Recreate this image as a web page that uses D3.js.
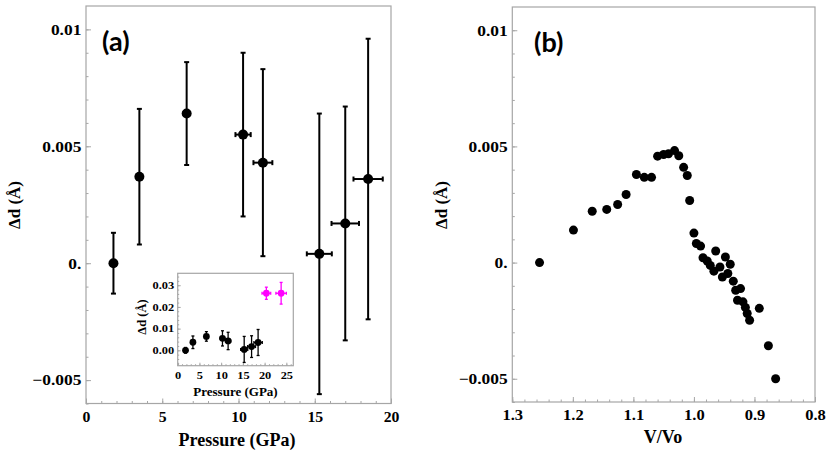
<!DOCTYPE html>
<html>
<head>
<meta charset="utf-8">
<script src="https://cdn.jsdelivr.net/npm/d3@7"></script>
<style>
    body { margin: 0; background: #ffffff; }
    svg text { font-family: 'Liberation Serif', 'Times New Roman', serif; font-weight: bold; fill: #000; }
</style>
</head>
<body>
<div id="container"></div>
<script>
// ---- panel (a): Δd vs pressure, with error bars ----
const pressure = [1.8, 3.5, 6.6, 10.3, 11.6, 15.3, 17.0, 18.5];
const pressureErr = [0, 0, 0.15, 0.5, 0.62, 0.82, 0.9, 0.96];
const deltaD = [0, 0.0037, 0.0064, 0.0055, 0.0043, 0.0004, 0.0017, 0.0036];
const deltaDErr = [0.0013, 0.0029, 0.0022, 0.0035, 0.004, 0.006, 0.005, 0.006];

// inset extra points (magenta)
const pressureHigh = [20.4, 23.8];
const pressureHighErr = [1.0, 1.2];
const deltaDHigh = [0.0263, 0.0263];
const deltaDHighErr = [0.0028, 0.005];

// ---- panel (b): Δd vs V/Vo ----
const volRatio = [1.255, 1.199, 1.168, 1.144, 1.126, 1.112, 1.095, 1.082, 1.070, 1.060,
    1.050, 1.042, 1.032, 1.025, 1.017, 1.011, 1.007, 1.000, 0.996, 0.989,
    0.964, 0.985, 0.978, 0.973, 0.967, 0.957, 0.948, 0.940, 0.953, 0.944,
    0.935, 0.931, 0.923, 0.928, 0.919, 0.915, 0.912, 0.908, 0.892, 0.877, 0.865];
const deltaDVol = [0, 0.0014, 0.00221, 0.00229, 0.0025, 0.00293, 0.00379, 0.00367, 0.00367, 0.00458,
    0.00465, 0.00468, 0.00482, 0.0046, 0.0041, 0.00375, 0.00267, 0.00127, 0.00082, 0.00071,
    0.0005, 0.00021, 0.00007, -0.00012, -0.00037, -0.00019, 0.00024, -0.00007, -0.00062, -0.00047,
    -0.0008, -0.00119, -0.00112, -0.00162, -0.00169, -0.00193, -0.00219, -0.00248, -0.00197, -0.00358, -0.005];

// ticks
const dTicks = [-0.005, 0, 0.005, 0.01];
const dTickLabels = ['\u22120.005', '0.', '0.005', '0.01'];
const pTicks = [0, 5, 10, 15, 20];
const pTickLabels = ['0', '5', '10', '15', '20'];
const vTicks = [1.3, 1.2, 1.1, 1.0, 0.9, 0.8];
const vTickLabels = ['1.3', '1.2', '1.1', '1.0', '0.9', '0.8'];
const insetPTicks = [0, 5, 10, 15, 20, 25];
const insetPTickLabels = ['0', '5', '10', '15', '20', '25'];
const insetDTicks = [0, 0.01, 0.02, 0.03];
const insetDTickLabels = ['0.00', '0.01', '0.02', '0.03'];

const frameColor = '#a6a6a6';

const svg = d3.select('#container')
    .append('svg')
    .attr('width', 830)
    .attr('height', 456);

// frame + ticks in Mathematica style (ticks pointing inside)
function drawFrame(g, x, y, opt) {
    const [x0, x1] = x.range();
    const [y0, y1] = y.range();
    g.append('rect')
        .attr('x', Math.min(x0, x1)).attr('y', Math.min(y0, y1))
        .attr('width', Math.abs(x1 - x0)).attr('height', Math.abs(y1 - y0))
        .attr('fill', opt.fill || 'none')
        .attr('stroke', frameColor)
        .attr('stroke-width', 1.2);

    const bottom = Math.max(y0, y1), left = Math.min(x0, x1);
    // minor
    g.append('g').attr('transform', `translate(0,${bottom})`)
        .call(d3.axisBottom(x).tickValues(opt.xMinor).tickSize(-opt.minor).tickFormat(''));
    g.append('g').attr('transform', `translate(${left},0)`)
        .call(d3.axisLeft(y).tickValues(opt.yMinor).tickSize(-opt.minor).tickFormat(''));
    // major
    const xa = g.append('g').attr('transform', `translate(0,${bottom})`)
        .call(d3.axisBottom(x).tickValues(opt.xTicks).tickSize(-opt.major).tickPadding(opt.xPad)
            .tickFormat((d, i) => opt.xLabels[i]));
    const ya = g.append('g').attr('transform', `translate(${left},0)`)
        .call(d3.axisLeft(y).tickValues(opt.yTicks).tickSize(-opt.major).tickPadding(opt.yPad)
            .tickFormat((d, i) => opt.yLabels[i]));

    g.selectAll('.domain').remove();
    g.selectAll('.tick line').attr('stroke', frameColor).attr('stroke-width', 1);
    g.selectAll('.tick text')
        .attr('font-family', null)
        .style('font-size', opt.fontSize + 'px')
        .attr('fill', '#000');
    // the original labels are rendered a bit wide
    xa.selectAll('.tick text').attr('transform', `scale(${opt.xStretch},1)`);
    ya.selectAll('.tick text').attr('transform', `scale(${opt.yStretch},1)`);
}

// error bars + markers
function drawErrorPoints(g, x, y, xs, ys, xe, ye, opt) {
    xs.forEach((px, i) => {
        const cx = x(px), cy = y(ys[i]);
        const yt = y(ys[i] + ye[i]), yb = y(ys[i] - ye[i]);
        g.append('line').attr('x1', cx).attr('x2', cx).attr('y1', yt).attr('y2', yb)
            .attr('stroke', opt.color).attr('stroke-width', opt.sw);
        [yt, yb].forEach(yy => g.append('line')
            .attr('x1', cx - opt.cap).attr('x2', cx + opt.cap).attr('y1', yy).attr('y2', yy)
            .attr('stroke', opt.color).attr('stroke-width', opt.sw));
        if (xe[i] > 0) {
            const xl = x(px - xe[i]), xr = x(px + xe[i]);
            g.append('line').attr('x1', xl).attr('x2', xr).attr('y1', cy).attr('y2', cy)
                .attr('stroke', opt.color).attr('stroke-width', opt.sw);
            [xl, xr].forEach(xx => g.append('line')
                .attr('x1', xx).attr('x2', xx).attr('y1', cy - opt.cap).attr('y2', cy + opt.cap)
                .attr('stroke', opt.color).attr('stroke-width', opt.sw));
        }
        g.append('circle').attr('cx', cx).attr('cy', cy).attr('r', opt.r).attr('fill', opt.color);
    });
}

// ================= panel (a) =================
const xA = d3.scaleLinear().domain([0, 20]).range([86, 391]);
const yA = d3.scaleLinear().domain([-0.006, 0.011]).range([403.5, 6]);
const gA = svg.append('g');

drawFrame(gA, xA, yA, {
    xTicks: pTicks, xLabels: pTickLabels, xMinor: d3.range(0, 21, 1),
    yTicks: dTicks, yLabels: dTickLabels, yMinor: d3.range(-6, 11).map(v => v / 1000),
    major: 5, minor: 2.5, xPad: 8, yPad: 4, fontSize: 15, xStretch: 1.05, yStretch: 1.16
});
drawErrorPoints(gA, xA, yA, pressure, deltaD, pressureErr, deltaDErr,
    { color: '#000', sw: 2, cap: 2.5, r: 5 });

gA.append('text').text('(a)')
    .attr('x', 102).attr('y', 51)
    .style('font-family', 'Lato, \'Open Sans\', sans-serif')
    .style('font-size', '27px');
gA.append('text').text('Pressure (GPa)')
    .attr('x', 237).attr('y', 446)
    .attr('text-anchor', 'middle')
    .style('font-size', '18px');
gA.append('text').text('\u0394d (\u00c5)')
    .attr('text-anchor', 'middle')
    .attr('transform', 'translate(20,205) rotate(-90)')
    .style('font-size', '17px');

// ---- inset ----
const xI = d3.scaleLinear().domain([0, 26.6]).range([177.7, 293.3]);
const yI = d3.scaleLinear().domain([-0.0071, 0.0355]).range([365.7, 273.3]);
const gI = svg.append('g');

drawFrame(gI, xI, yI, {
    fill: '#ffffff',
    xTicks: insetPTicks, xLabels: insetPTickLabels, xMinor: d3.range(0, 27, 1),
    yTicks: insetDTicks, yLabels: insetDTickLabels, yMinor: d3.range(-3, 18).map(v => v / 500),
    major: 3, minor: 1.5, xPad: 6, yPad: 3, fontSize: 10.5, xStretch: 1.18, yStretch: 1.18
});
drawErrorPoints(gI, xI, yI, pressure, deltaD, pressureErr, deltaDErr,
    { color: '#000', sw: 1.3, cap: 1.5, r: 3.4 });
drawErrorPoints(gI, xI, yI, pressureHigh, deltaDHigh, pressureHighErr, deltaDHighErr,
    { color: '#ff00ff', sw: 1.3, cap: 1.5, r: 3.4 });

gI.append('text').text('Pressure (GPa)')
    .attr('x', 235.5).attr('y', 396)
    .attr('text-anchor', 'middle')
    .style('font-size', '13px');
gI.append('text').text('\u0394d (\u00c5)')
    .attr('text-anchor', 'middle')
    .attr('transform', 'translate(146,317) rotate(-90)')
    .style('font-size', '12.5px');

// ================= panel (b) =================
const xB = d3.scaleLinear().domain([1.3, 0.8]).range([512.3, 815]);
const yB = d3.scaleLinear().domain([-0.006, 0.011]).range([402, 7]);
const gB = svg.append('g');

drawFrame(gB, xB, yB, {
    xTicks: vTicks, xLabels: vTickLabels, xMinor: d3.range(40, 66, 1).map(v => v / 50),
    yTicks: dTicks, yLabels: dTickLabels, yMinor: d3.range(-6, 11).map(v => v / 1000),
    major: 5, minor: 2.5, xPad: 7, yPad: 4, fontSize: 15, xStretch: 1.1, yStretch: 1.16
});

gB.selectAll('circle.pt')
    .data(volRatio)
    .join('circle')
    .attr('class', 'pt')
    .attr('cx', d => xB(d))
    .attr('cy', (d, i) => yB(deltaDVol[i]))
    .attr('r', 4.5)
    .attr('fill', '#000');

gB.append('text').text('(b)')
    .attr('x', 534).attr('y', 52)
    .style('font-family', 'Lato, \'Open Sans\', sans-serif')
    .style('font-size', '27px');
gB.append('text').text('V/Vo')
    .attr('x', 663).attr('y', 443)
    .attr('text-anchor', 'middle')
    .style('font-size', '18px');
gB.append('text').text('\u0394d (\u00c5)')
    .attr('text-anchor', 'middle')
    .attr('transform', 'translate(447,205) rotate(-90)')
    .style('font-size', '17px');
</script>
</body>
</html>
